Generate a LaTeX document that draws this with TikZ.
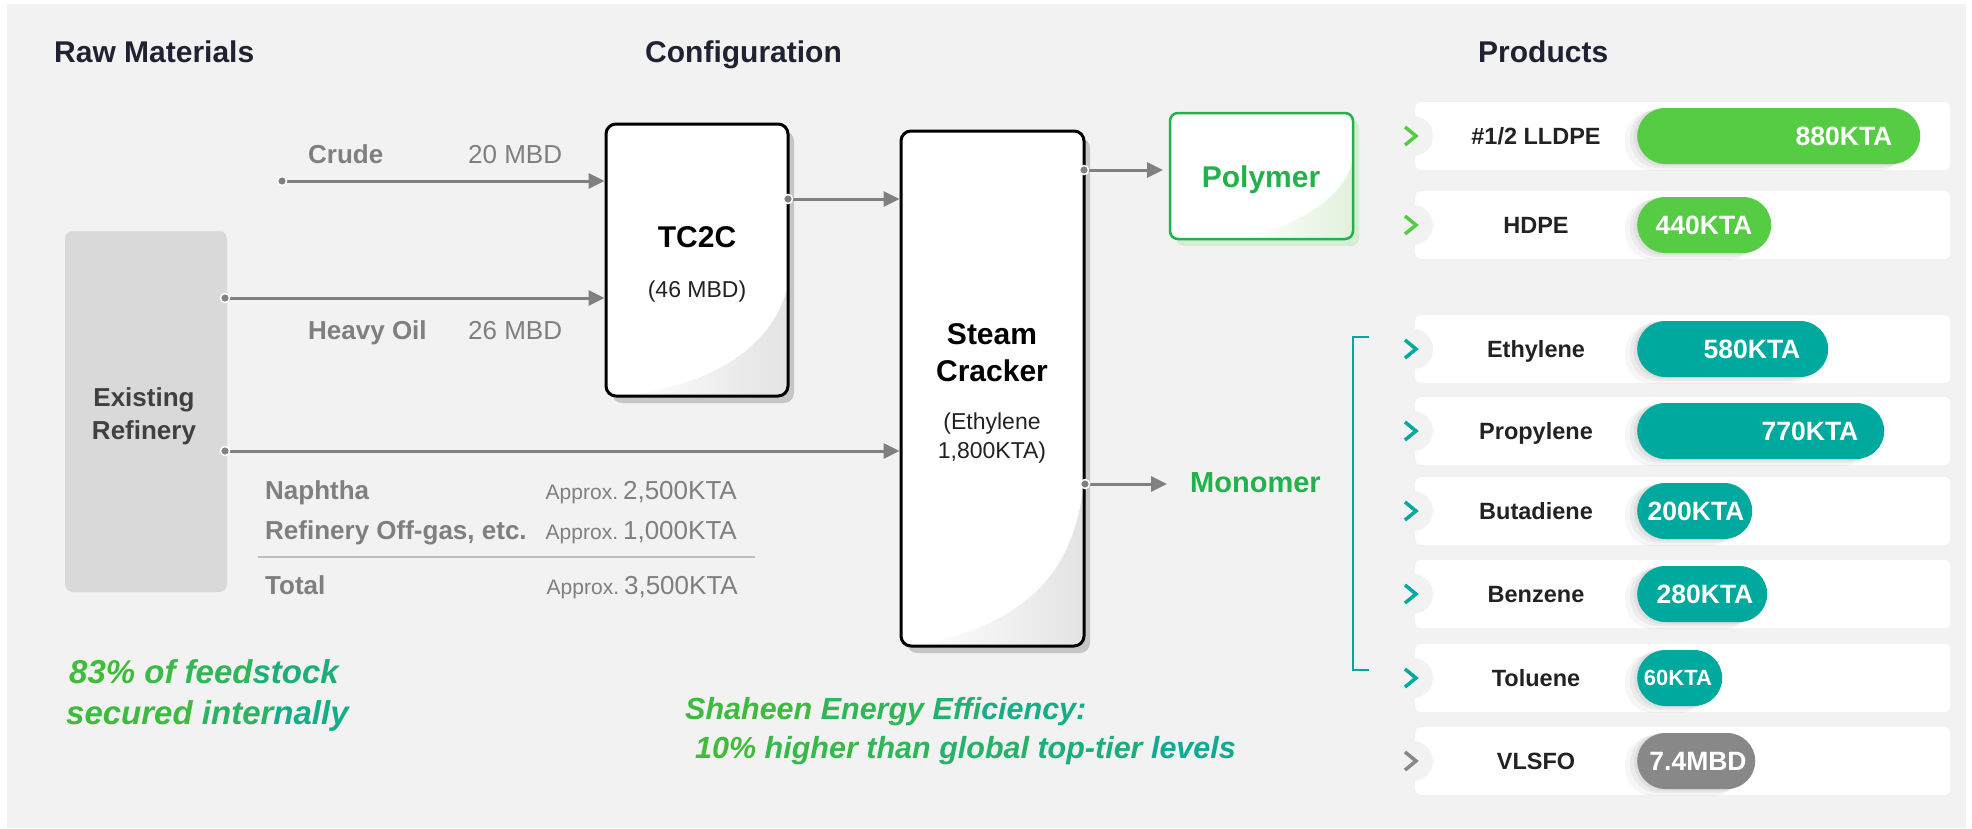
\documentclass[tikz,border=0pt]{standalone}
\usepackage{fontspec}
\setmainfont{Liberation Sans}
\usetikzlibrary{arrows.meta}
\definecolor{bgc}{HTML}{F2F2F2}
\definecolor{navy}{HTML}{1E2232}
\definecolor{agray}{HTML}{808080}
\definecolor{tgray}{HTML}{7F7F7F}
\definecolor{refbox}{HTML}{D9D9D9}
\definecolor{shgray}{HTML}{C6C6C6}
\definecolor{swgray}{HTML}{E2E2E2}
\definecolor{pgreen}{HTML}{22B24C}
\definecolor{pshadow}{HTML}{D4EDD4}
\definecolor{pswoosh}{HTML}{E0F1DA}
\definecolor{barg}{HTML}{55CC44}
\definecolor{tealc}{HTML}{00A99D}
\definecolor{chg}{HTML}{4CC43F}
\definecolor{vgray}{HTML}{888888}
\definecolor{gA}{HTML}{40BC3A}
\definecolor{gB}{HTML}{0AA89B}
\definecolor{ink}{HTML}{222222}
\definecolor{refink}{HTML}{404040}
\definecolor{sepc}{HTML}{BDBDBD}
\newcommand\fsz[1]{\fontsize{#1pt}{#1pt}\selectfont}
% product row: #1 name, #2 centre y, #3 label, #4 pill right x, #5 value, #6 colour, #7 value x, #8 value size
\newcommand\prow[8]{%
  \node[card, anchor=west] (#1card) at (1415,#2) {};
  \fill[bgc] (1413,#2) circle (20pt);
  \draw[#6, line width=3.5pt] (1405,#2-9) -- (1416,#2) -- (1405,#2+9);
  \node[txt=23.5, font=\fsz{23.5}\bfseries, text=ink] (#1lab) at (1536,#2) {#3};
  \fill[black, opacity=0.035, rounded corners=28pt] (1625,#2-25) rectangle (#4-14,#2+35);
  \fill[black, opacity=0.045, rounded corners=28pt] (1630,#2-27) rectangle (#4-10,#2+32);
  \fill[black, opacity=0.05, rounded corners=28pt] (1634,#2-28) rectangle (#4-6,#2+30);
  \node[fill=#6, rounded corners=28pt, inner sep=0pt, minimum width={#4-1637}, minimum height=56pt, anchor=west] (#1pill) at (1637,#2) {};
  \node[txt=#8, font=\fsz{#8}\bfseries, text=white] (#1val) at (#7,#2) {#5};
}
\begin{document}
\begin{tikzpicture}[x=1pt,y=-1pt,
  txt/.style={inner sep=0pt, text height={0.72*#1pt}, text depth=0pt},
  title/.style={txt=30, font=\fsz{30}\bfseries, text=navy, anchor=west},
  glab/.style={txt=26, font=\fsz{26}\bfseries, text=tgray, anchor=west},
  gval/.style={txt=26, font=\fsz{26}, text=tgray},
  arr/.style={draw=agray, line width=3pt, -{Triangle[length=16pt,width=15pt]}},
  dotn/.style={circle, fill=agray, draw=white, line width=1.5pt, inner sep=0pt, minimum size=9pt},
  unitbox/.style={draw=black, line width=3pt, rounded corners=10pt, inner sep=0pt},
  card/.style={fill=white, rounded corners=6pt, inner sep=0pt, minimum width=535pt, minimum height=68pt},
]
\useasboundingbox (0,0) rectangle (1972,828);
\fill[white] (0,0) rectangle (1972,828);
\fill[bgc] (7,4) rectangle (1966,828);

% titles
\node[title] (tRaw) at (54,52) {Raw Materials};
\node[title] (tConf) at (645,52) {Configuration};
\node[title] (tProd) at (1478,52) {Products};

% existing refinery
\node[fill=refbox, rounded corners=8pt, minimum width=162pt, minimum height=361pt, inner sep=0pt] (ref) at (146,411.5) {};
\node[txt=26, font=\fsz{26}\bfseries, text=refink] (ref1) at (144,397) {Existing};
\node[txt=26, font=\fsz{26}\bfseries, text=refink] (ref2) at (144,430) {Refinery};

% TC2C box
\fill[shgray, rounded corners=10pt] (612,131) rectangle (794,403);
\fill[white, rounded corners=10pt] (606,124) rectangle (788,396);
\begin{scope}
  \clip[rounded corners=10pt] (606,124) rectangle (788,396);
  \shade[left color=white, right color=swgray] (620,396) .. controls (720,386) and (776,340) .. (788,285) -- (792,400) -- cycle;
\end{scope}
\node[unitbox, minimum width=182pt, minimum height=272pt] (tc2c) at (697,260) {};
\node[txt=30, font=\fsz{30}\bfseries, text=black] (tc2cT) at (697,237) {TC2C};
\node[txt=23, font=\fsz{23}, text=ink] (tc2cS) at (697,289) {(46 MBD)};

% Steam cracker box
\fill[shgray, rounded corners=10pt] (907,138) rectangle (1090,653);
\fill[white, rounded corners=10pt] (901,131) rectangle (1084,646);
\begin{scope}
  \clip[rounded corners=10pt] (901,131) rectangle (1084,646);
  \shade[left color=white, right color=swgray] (915,646) .. controls (1040,622) and (1076,560) .. (1084,480) -- (1090,650) -- cycle;
\end{scope}
\node[unitbox, minimum width=183pt, minimum height=515pt] (sc) at (992.5,388.5) {};
\node[txt=30, font=\fsz{30}\bfseries, text=black] (sc1) at (992,334) {Steam};
\node[txt=30, font=\fsz{30}\bfseries, text=black] (sc2) at (992,371) {Cracker};
\node[txt=23, font=\fsz{23}, text=ink] (sc3) at (992,421) {(Ethylene};
\node[txt=23, font=\fsz{23}, text=ink] (sc4) at (992,450) {1,800KTA)};

% Polymer box
\fill[pshadow, rounded corners=8pt] (1176,120) rectangle (1359,246);
\fill[white, rounded corners=8pt] (1170,113) rectangle (1353,239);
\begin{scope}
  \clip[rounded corners=8pt] (1170,113) rectangle (1353,239);
  \shade[left color=white, right color=pswoosh] (1240,239) .. controls (1300,226) and (1345,196) .. (1353,160) -- (1357,243) -- cycle;
\end{scope}
\node[draw=pgreen, line width=2.5pt, rounded corners=8pt, minimum width=183pt, minimum height=126pt, inner sep=0pt] (poly) at (1261.5,176) {};
\node[txt=30, font=\fsz{30}\bfseries, text=pgreen] (polyT) at (1261,177) {Polymer};
\node[txt=29, font=\fsz{29}\bfseries, text=pgreen, anchor=west] (mono) at (1190,482) {Monomer};

% feed labels
\node[glab] (lCrude) at (308,154) {Crude};
\node[gval, anchor=west] (vCrude) at (468,154) {20 MBD};
\node[glab] (lHeavy) at (308,330) {Heavy Oil};
\node[gval, anchor=west] (vHeavy) at (468,330) {26 MBD};
\node[glab] (lNaph) at (265,490) {Naphtha};
\node[gval, anchor=east] (vNaph) at (737,490) {{\fsz{21}Approx.}\hspace{5pt}2,500KTA};
\node[glab] (lOff) at (265,530) {Refinery Off-gas, etc.};
\node[gval, anchor=east] (vOff) at (737,530) {{\fsz{21}Approx.}\hspace{5pt}1,000KTA};
\draw[sepc, line width=2pt] (258,557) -- (755,557);
\node[glab] (lTot) at (265,585) {Total};
\node[gval, anchor=east] (vTot) at (738,585) {{\fsz{21}Approx.}\hspace{5pt}3,500KTA};

% connectors
\coordinate (cCrude) at (282,181);
\coordinate (cHeavy) at (225,298);
\coordinate (cNaph) at (225,451);
\coordinate (cTc) at (788,199);
\coordinate (cPoly) at (1084,170);
\coordinate (cMono) at (1085,484);
\coordinate (eMono) at (1167,484);
\coordinate (ePoly) at (1163,170);
\draw[arr] (cCrude) -- (cCrude -| tc2c.west);
\draw[arr] (cHeavy) -- (cHeavy -| tc2c.west);
\draw[arr] (cNaph) -- (cNaph -| sc.west);
\draw[arr] (cTc) -- (cTc -| sc.west);
\draw[arr] (cPoly) -- (ePoly);
\draw[arr] (cMono) -- (eMono);
\node[dotn] (dCrude) at (cCrude) {};
\node[dotn] (dHeavy) at (cHeavy) {};
\node[dotn] (dNaph) at (cNaph) {};
\node[dotn] (dTc) at (cTc) {};
\node[dotn] (dPoly) at (cPoly) {};
\node[dotn] (dMono) at (cMono) {};

% bracket
\draw[tealc, line width=2pt] (1369,337) -- (1353,337) -- (1353,670) -- (1369,670);

% products
\prow{lldpe}{136}{\#1/2 LLDPE}{1920}{880KTA}{barg}{1844}{26.5}
\prow{hdpe}{225}{HDPE}{1771}{440KTA}{barg}{1704}{26.5}
\prow{eth}{349}{Ethylene}{1828}{580KTA}{tealc}{1752}{26.5}
\prow{pro}{431}{Propylene}{1884}{770KTA}{tealc}{1810}{26.5}
\prow{but}{511}{Butadiene}{1752}{200KTA}{tealc}{1696}{26.5}
\prow{ben}{594}{Benzene}{1767}{280KTA}{tealc}{1705}{26.5}
\prow{tol}{678}{Toluene}{1722}{60KTA}{tealc}{1678}{22}
\prow{vls}{761}{VLSFO}{1755}{7.4MBD}{vgray}{1698}{26.5}

% notes
\node[txt=33, anchor=west, font=\fsz{33}\bfseries\itshape] (note1) at (69,672)
  {\color{gB!0!gA}83\% \color{gB!12!gA}of \color{gB!30!gA}feed\color{gB!65!gA}stock};
\node[txt=33, anchor=west, font=\fsz{33}\bfseries\itshape] (note2) at (66,713)
  {\color{gB!5!gA}secured \color{gB!40!gA}inter\color{gB!80!gA}nally};
\node[txt=30.5, anchor=west, font=\fsz{30.5}\bfseries\itshape] (note3) at (685,709)
  {\color{gB!5!gA}Shaheen \color{gB!30!gA}Energy \color{gB!55!gA}Effi\color{gB!80!gA}ciency:};
\node[txt=30.5, anchor=west, font=\fsz{30.5}\bfseries\itshape] (note4) at (695,748)
  {\color{gB!0!gA}10\% \color{gB!18!gA}higher \color{gB!32!gA}than \color{gB!48!gA}global \color{gB!68!gA}top-tier \color{gB!90!gA}levels};
\end{tikzpicture}
\end{document}
